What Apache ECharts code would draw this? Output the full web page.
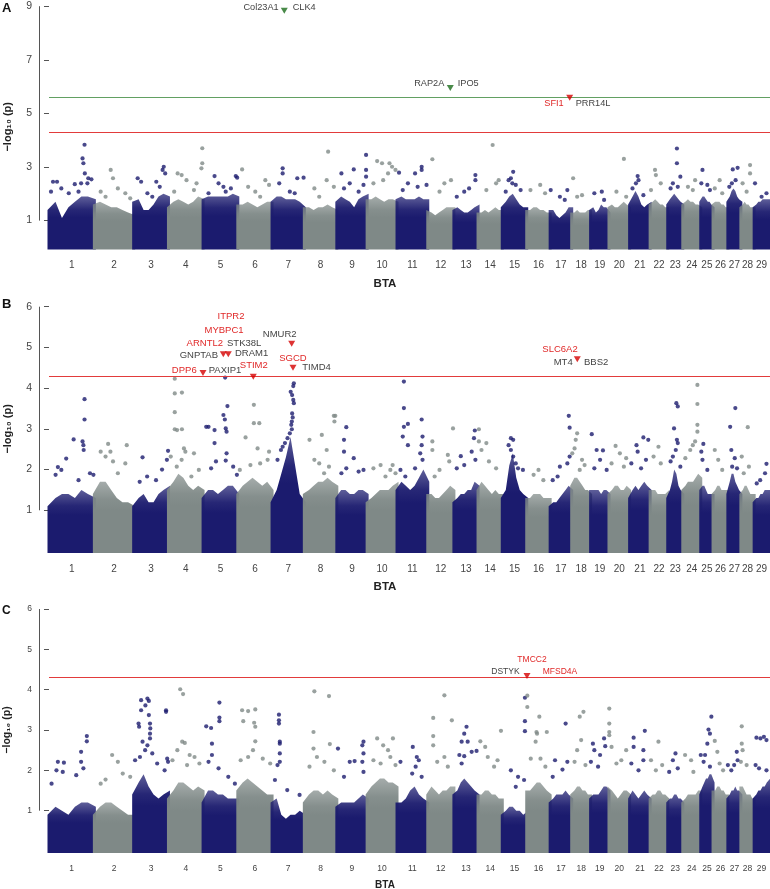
<!DOCTYPE html>
<html><head><meta charset="utf-8">
<script src="https://cdn.jsdelivr.net/npm/echarts@6/dist/echarts.min.js"></script>
<style>html,body{margin:0;padding:0;background:#fff}#c{width:770px;height:889px}</style>
</head><body><div id="c"></div>
<script>
// ---------------- DATA ----------------
const chromosomes = ['1','2','3','4','5','6','7','8','9','10','11','12','13','14','15','16','17','18','19','20','21','22','23','24','25','26','27','28','29'];
const chrLengthMb = [158.3,137.1,121.4,120.8,121.2,119.5,112.6,113.4,105.7,104.3,107.3,91.2,84.2,84.6,85.3,81.7,75.2,66.0,64.1,72.0,71.6,61.4,52.5,62.7,42.9,51.7,45.4,46.3,51.5];
const yTicksA = [1,3,5,7,9];
const yTicksBC = [1,2,3,4,5,6];
const thresholdRed = 4.3;
const thresholdGreenA = 5.61;

// dense band top profile per chromosome (8 samples evenly along each chromosome), -log10(p)
const bandA = [
[1.4,1.7,1.1,1.5,1.7,1.9,1.9,1.8],[1.6,1.7,1.6,1.5,1.5,1.4,1.3,1.2],[1.7,1.8,1.4,1.4,1.6,1.9,2.0,1.9],[1.5,1.7,1.8,1.7,1.6,1.7,1.9,1.8],
[1.8,1.9,1.9,1.9,1.9,1.9,2.0,1.9],[1.6,1.6,1.7,1.6,1.5,1.6,1.7,1.7],[1.7,1.9,1.9,1.8,1.8,1.8,1.7,1.5],[1.5,1.5,1.4,1.5,1.5,1.6,1.5,1.4],
[1.7,1.9,1.8,1.7,1.5,1.8,1.9,2.0],[1.8,1.8,1.9,1.8,1.7,1.8,1.8,1.7],[1.8,1.9,1.8,1.8,1.8,1.9,1.8,1.8],[1.4,1.3,1.2,1.3,1.4,1.5,1.5,1.5],
[1.4,1.5,1.4,1.3,1.3,1.4,1.5,1.6],[1.3,1.3,1.4,1.3,1.4,1.5,1.4,1.4],[1.5,1.7,1.9,2.0,1.8,1.6,1.5,1.5],[1.4,1.4,1.5,1.5,1.4,1.4,1.3,1.3],
[1.4,1.4,1.2,1.1,1.2,1.3,1.5,1.5],[1.3,1.3,1.4,1.3,1.3,1.3,1.4,1.4],[1.4,1.5,1.3,1.4,1.6,1.5,1.5,1.3],[1.5,1.6,1.5,1.5,1.6,1.7,1.6,1.5],
[1.6,1.9,2.1,1.9,1.6,1.5,1.6,1.7],[1.6,1.7,1.8,1.7,1.6,1.6,1.5,1.5],[1.6,1.8,1.9,2.0,1.9,1.8,1.7,1.6],[1.6,1.7,1.8,1.7,1.7,1.6,1.6,1.5],
[1.7,1.9,1.9,1.8,1.7,1.7,1.6,1.5],[1.6,1.7,1.7,1.7,1.6,1.6,1.5,1.5],[1.7,1.9,2.1,2.2,2.1,1.9,1.8,1.7],[1.5,1.6,1.7,1.6,1.6,1.5,1.5,1.5],
[1.5,1.6,1.7,1.7,1.8,1.8,1.8,1.8]];
const bandB = [
[1.1,1.3,1.4,1.4,1.3,1.5,1.4,1.3],[1.4,1.7,1.7,1.5,1.3,1.2,1.2,1.1],[1.1,1.3,1.4,1.2,1.2,1.4,1.5,1.6],[1.5,1.7,1.9,1.8,1.6,1.5,1.6,1.5],
[1.3,1.5,1.5,1.4,1.5,1.6,1.6,1.4],[1.4,1.6,1.7,1.8,1.7,1.6,1.7,1.5],[1.2,1.5,1.9,2.3,2.8,2.1,1.4,1.2],[1.4,1.5,1.6,1.7,1.7,1.8,1.7,1.6],
[1.3,1.5,1.5,1.4,1.4,1.5,1.5,1.4],[1.2,1.3,1.4,1.5,1.5,1.5,1.6,1.7],[1.5,1.7,1.6,1.5,1.6,1.8,2.0,1.7],[1.4,1.4,1.3,1.3,1.4,1.5,1.6,1.5],
[1.2,1.3,1.4,1.4,1.5,1.5,1.7,1.6],[1.5,1.7,1.6,1.5,1.4,1.5,1.4,1.4],[1.3,1.5,2.1,2.4,1.8,1.5,1.4,1.3],[1.3,1.3,1.4,1.4,1.4,1.3,1.3,1.3],
[1.1,1.2,1.2,1.3,1.4,1.5,1.6,1.5],[1.6,1.8,1.8,1.7,1.6,1.5,1.5,1.4],[1.5,1.5,1.5,1.5,1.4,1.5,1.5,1.4],[1.4,1.5,1.6,1.6,1.5,1.5,1.6,1.5],
[1.3,1.5,1.6,1.5,1.6,1.7,1.6,1.5],[1.5,1.5,1.5,1.4,1.4,1.4,1.4,1.5],[1.3,1.5,1.7,2.0,1.9,1.6,1.5,1.4],[1.5,1.6,1.7,1.7,1.7,1.8,1.9,1.8],
[1.5,1.6,1.6,1.5,1.4,1.4,1.4,1.4],[1.4,1.5,1.6,1.6,1.5,1.5,1.5,1.5],[1.4,1.7,1.9,1.9,1.7,1.6,1.5,1.4],[1.4,1.5,1.6,1.6,1.5,1.4,1.4,1.4],
[1.2,1.3,1.3,1.4,1.4,1.5,1.5,1.5]];
const bandC = [
[0.9,1.1,1.0,0.9,1.1,1.2,1.2,1.1],[0.9,1.1,1.2,1.2,1.1,1.0,0.9,0.9],[1.4,1.7,1.9,1.6,1.4,1.3,1.4,1.5],[1.3,1.5,1.7,1.7,1.6,1.5,1.6,1.5],
[1.2,1.5,1.5,1.4,1.4,1.3,1.3,1.3],[1.5,1.7,1.8,1.7,1.6,1.5,1.4,1.4],[1.2,1.3,0.9,0.8,0.9,0.9,1.0,0.9],[1.2,1.4,1.5,1.5,1.4,1.5,1.4,1.3],
[1.1,1.2,1.2,1.2,1.2,1.3,1.4,1.3],[1.4,1.6,1.7,1.8,1.8,1.7,1.7,1.6],[1.2,1.2,1.3,1.5,1.6,1.4,1.3,1.2],[1.4,1.6,1.5,1.4,1.5,1.5,1.6,1.6],
[1.4,1.5,1.7,1.8,1.7,1.6,1.5,1.4],[1.4,1.4,1.5,1.5,1.4,1.4,1.3,1.3],[0.9,1.0,1.1,1.1,1.0,1.0,0.9,1.0],[1.5,1.5,1.6,1.7,1.7,1.6,1.5,1.4],
[1.2,1.3,1.4,1.4,1.4,1.5,1.4,1.3],[1.4,1.5,1.6,1.6,1.5,1.5,1.4,1.4],[1.3,1.4,1.4,1.4,1.5,1.6,1.6,1.5],[1.6,1.5,1.4,1.3,1.4,1.5,1.5,1.4],
[1.3,1.5,1.4,1.3,1.4,1.5,1.4,1.3],[1.3,1.4,1.4,1.5,1.5,1.4,1.4,1.3],[1.2,1.3,1.3,1.4,1.4,1.3,1.3,1.2],[1.2,1.3,1.4,1.4,1.4,1.4,1.5,1.5],
[1.4,1.6,1.7,1.8,1.8,1.9,1.9,1.7],[1.5,1.5,1.6,1.6,1.5,1.5,1.4,1.4],[1.3,1.4,1.5,1.5,1.6,1.5,1.5,1.4],[1.6,1.6,1.5,1.4,1.4,1.4,1.3,1.3],
[1.3,1.4,1.5,1.5,1.6,1.6,1.7,1.8]];

// individual SNPs above the dense band: [chromosome, position (Mb), -log10(p)]
const pointsA = [
[1,14,2.45],[1,28,2.45],[1,7,2.08],[1,90,2.36],[1,112,2.39],[1,120,3.14],[1,117,3.32],[1,124,3.83],[1,125,2.76],[1,137,2.58],[1,148,2.54],[1,134,2.39],[1,103,2.08],[1,43,2.2],[1,69,2.02],
[2,57,2.89],[2,65,2.58],[2,22,2.08],[2,82,2.2],[2,39,1.89],[2,108,2.02],[2,125,1.83],
[3,14,2.58],[3,26,2.45],[3,105,3.01],[3,101,2.89],[3,110,2.76],[3,79,2.45],[3,91,2.26],[3,48,2.02],[3,65,1.89],
[4,32,2.76],[4,46,2.7],[4,63,2.51],[4,118,3.7],[4,118,3.14],[4,115,2.95],[4,98,2.39],[4,89,2.14],[4,20,2.08],
[5,40,2.66],[5,54,2.39],[5,71,2.26],[5,114,2.66],[5,119,2.6],[5,97,2.2],[5,19,2.02],[5,79,2.08],
[6,15,2.91],[6,36,2.26],[6,61,2.08],[6,96,2.51],[6,109,2.33],[6,78,1.89],
[7,37,2.95],[7,37,2.76],[7,25,2.39],[7,88,2.58],[7,110,2.6],[7,62,2.08],[7,79,2.02],
[8,83,3.57],[8,78,2.51],[8,35,2.2],[8,103,2.26],[8,52,1.89],
[9,16,2.76],[9,59,2.91],[9,102,3.45],[9,102,2.89],[9,102,2.64],[9,45,2.39],[9,25,2.2],[9,76,2.08],[9,93,2.33],
[10,35,3.22],[10,52,3.14],[10,78,3.14],[10,87,3.01],[10,99,2.89],[10,73,2.76],[10,22,2.39],[10,56,2.51],
[11,86,3.01],[11,86,2.89],[11,63,2.76],[11,7,2.79],[11,38,2.39],[11,72,2.26],[11,103,2.33],[11,20,2.14],
[12,16,3.29],[12,58,2.39],[12,81,2.51],[12,41,2.08],
[13,75,2.7],[13,75,2.51],[13,36,2.08],[13,10,1.89],[13,53,2.2],
[14,51,3.82],[14,63,2.39],[14,29,2.14],[14,72,2.51],
[15,38,2.82],[15,30,2.58],[15,22,2.51],[15,47,2.33],[15,12,2.08],[15,64,2.14],[15,35,2.39],
[16,47,2.33],[16,13,2.14],[16,64,2.02],
[17,2,2.14],[17,60,2.14],[17,34,1.89],[17,51,1.77],
[18,5,2.58],[18,36,1.95],[18,19,1.89],
[19,39,2.08],[19,13,2.02],[19,47,1.77],
[20,52,3.3],[20,26,2.08],[20,60,1.89],
[21,28,2.66],[21,31,2.51],[21,22,2.39],[21,10,2.2],[21,48,1.95],
[22,17,2.89],[22,20,2.7],[22,37,2.39],[22,3,2.14],
[23,32,3.69],[23,32,3.14],[23,44,2.64],[23,18,2.39],[23,10,2.2],[23,35,2.26],
[24,43,2.51],[24,18,2.26],[24,35,2.14],
[25,6,2.89],[25,2,2.39],[25,23,2.33],[25,32,2.14],
[26,23,2.51],[26,6,2.2],[26,32,2.02],
[27,17,2.91],[27,34,2.97],[27,14,2.39],[27,27,2.51],[27,5,2.26],
[28,32,3.07],[28,32,2.76],[28,6,2.39],[28,20,2.08],
[29,3,2.39],[29,43,2.02],[29,26,1.89]];
const pointsB = [
[1,124,3.73],[1,124,3.23],[1,86,2.74],[1,117,2.69],[1,120,2.6],[1,121,2.48],[1,60,2.27],[1,31,2.06],[1,23,1.87],[1,43,1.99],[1,143,1.91],[1,155,1.87],[1,103,1.74],
[2,48,2.63],[2,56,2.44],[2,22,2.44],[2,39,2.32],[2,65,2.2],[2,113,2.6],[2,108,2.15],[2,82,1.91],
[3,31,2.3],[3,120,2.46],[3,116,2.24],[3,99,2.0],[3,78,1.74],[3,47,1.83],[3,21,1.7],
[4,22,4.23],[4,22,3.87],[4,47,3.89],[4,22,3.41],[4,22,2.99],[4,47,2.99],[4,30,2.97],[4,54,2.52],[4,59,2.44],[4,46,2.24],[4,29,2.07],[4,89,2.4],[4,106,1.99],[4,80,1.83],[4,8,2.32],
[5,77,4.26],[5,85,3.56],[5,71,3.34],[5,76,3.23],[5,79,3.01],[5,82,2.93],[5,40,2.97],[5,19,3.05],[5,11,3.05],[5,40,2.65],[5,82,2.4],[5,79,2.22],[5,45,2.2],[5,28,2.03],[5,105,2.07],[5,118,1.87],
[6,56,3.59],[6,56,3.14],[6,75,3.14],[6,27,2.79],[6,69,2.52],[6,109,2.44],[6,104,2.24],[6,78,2.15],[6,44,2.11],[6,7,1.99],
[7,76,4.12],[7,74,4.05],[7,65,3.91],[7,70,3.83],[7,74,3.71],[7,76,3.63],[7,70,3.38],[7,72,3.28],[7,69,3.18],[7,67,3.1],[7,69,2.99],[7,62,2.89],[7,54,2.77],[7,45,2.65],[7,37,2.56],[7,31,2.48],[7,19,2.24],
[8,108,3.32],[8,103,3.32],[8,105,3.18],[8,61,2.85],[8,78,2.48],[8,18,2.73],[8,35,2.24],[8,86,2.07],[8,52,2.15],[8,69,1.91],
[9,33,3.04],[9,25,2.73],[9,25,2.44],[9,59,2.28],[9,33,2.03],[9,76,1.95],[9,93,1.99],[9,16,1.91],
[10,47,2.11],[10,89,2.11],[10,81,1.99],[10,22,2.03],[10,64,1.83],[10,99,1.91],
[11,24,4.16],[11,24,3.51],[11,24,3.05],[11,86,3.23],[11,89,2.81],[11,38,3.12],[11,38,2.6],[11,20,2.81],[11,86,2.6],[11,81,2.4],[11,89,2.24],[11,63,2.03],[11,12,1.99],[11,29,1.83],
[12,16,2.69],[12,16,2.48],[12,70,2.36],[12,75,2.2],[12,41,1.99],[12,24,1.83],[12,88,3.01],
[13,73,2.96],[13,70,2.77],[13,24,2.33],[13,36,2.11],[13,62,2.44],[13,75,2.24],[13,10,2.03],
[14,3,2.99],[14,3,2.69],[14,12,2.48],[14,38,2.2],[14,63,2.03],[14,29,2.65],
[15,30,2.77],[15,38,2.73],[15,22,2.6],[15,30,2.48],[15,38,2.32],[15,47,2.15],[15,55,2.03],[15,72,1.99],
[16,41,1.99],[16,24,1.87],[16,58,1.74],
[17,65,3.32],[17,68,3.03],[17,68,2.32],[17,60,2.15],[17,34,2.07],[17,26,1.83],[17,9,1.74],
[18,19,2.89],[18,14,2.73],[18,10,2.52],[18,2,2.4],[18,36,2.24],[18,45,2.11],[18,28,1.99],
[19,4,2.87],[19,21,2.48],[19,43,2.47],[19,33,2.24],[19,13,2.03],[19,56,1.99],
[20,23,2.58],[20,38,2.4],[20,9,2.15],[20,52,2.07],[20,60,2.28],
[21,48,2.79],[21,65,2.73],[21,24,2.6],[21,28,2.44],[21,6,2.15],[21,40,2.03],[21,57,2.24],
[22,29,2.56],[22,12,2.32],[22,37,2.15],
[23,30,3.63],[23,35,3.55],[23,22,3.01],[23,32,2.73],[23,35,2.65],[23,28,2.48],[23,18,2.32],[23,10,2.2],[23,44,2.07],
[24,51,4.08],[24,51,3.61],[24,51,3.1],[24,51,2.93],[24,43,2.69],[24,35,2.6],[24,26,2.48],[24,9,2.28],
[25,9,2.63],[25,2,2.44],[25,6,2.24],[25,23,1.99],
[26,6,2.48],[26,18,2.24],[26,32,1.99],
[27,26,3.51],[27,8,3.05],[27,12,2.48],[27,24,2.28],[27,15,2.07],[27,32,2.03],
[28,24,3.04],[28,3,2.32],[28,28,2.07],[28,10,1.91],
[29,43,2.14],[29,38,1.91],[29,21,1.74],[29,9,1.66]];
const pointsC = [
[1,132,2.85],[1,132,2.72],[1,112,2.46],[1,112,2.21],[1,31,2.21],[1,52,2.19],[1,26,2.0],[1,48,1.96],[1,95,1.88],[1,120,2.05],[1,9,1.67],
[2,62,2.38],[2,82,2.21],[2,39,1.77],[2,99,1.92],[2,22,1.67],[2,125,1.84],
[3,48,3.78],[3,53,3.72],[3,26,3.74],[3,26,3.49],[3,41,3.61],[3,53,3.37],[3,57,3.16],[3,58,3.04],[3,17,3.16],[3,19,3.08],[3,57,2.91],[3,57,2.79],[3,31,2.71],[3,48,2.62],[3,40,2.5],[3,22,2.33],[3,65,2.42],[3,113,3.49],[3,113,3.45],[3,117,2.29],[3,120,2.21],[3,108,2.0],[3,82,2.17],[3,5,2.25],
[4,41,4.01],[4,51,3.89],[4,48,2.71],[4,57,2.68],[4,31,2.5],[4,74,2.38],[4,91,2.33],[4,108,2.17],[4,14,2.25],[4,65,2.13],
[5,57,3.68],[5,57,3.31],[5,57,3.22],[5,11,3.09],[5,28,3.05],[5,31,2.66],[5,31,2.38],[5,54,2.05],[5,88,1.84],[5,111,1.67],[5,19,2.21],
[6,15,3.49],[6,36,3.47],[6,61,3.51],[6,19,3.22],[6,57,3.18],[6,61,3.08],[6,61,2.72],[6,53,2.5],[6,36,2.33],[6,10,2.25],[6,87,2.29],[6,113,2.17],
[7,24,3.38],[7,24,3.24],[7,24,3.16],[7,27,2.71],[7,27,2.66],[7,27,2.42],[7,27,2.21],[7,19,2.13],[7,10,1.76],[7,53,1.51],[7,96,1.39],
[8,35,3.96],[8,86,3.84],[8,32,2.95],[8,32,2.54],[8,89,2.65],[8,44,2.33],[8,70,2.21],[8,18,2.09],[8,103,2.0],
[9,4,2.54],[9,93,2.71],[9,89,2.62],[9,93,2.42],[9,62,2.23],[9,45,2.21],[9,89,2.21],[9,93,1.96],[9,25,1.84],
[10,35,2.79],[10,90,2.79],[10,56,2.62],[10,73,2.5],[10,81,2.33],[10,22,2.25],[10,47,2.17],[10,99,2.13],
[11,55,2.58],[11,69,2.33],[11,76,2.25],[11,65,2.09],[11,53,1.92],[11,12,2.21],[11,86,1.84],
[12,19,3.3],[12,19,2.85],[12,19,2.62],[12,84,3.24],[12,58,3.86],[12,58,2.33],[12,33,2.21],[12,70,2.09],
[13,44,3.08],[13,36,2.91],[13,27,2.71],[13,48,2.71],[13,36,2.35],[13,62,2.46],[13,79,2.48],[13,19,2.38],[13,27,2.17],
[14,8,2.72],[14,25,2.58],[14,34,2.33],[14,80,2.98],[14,56,2.09],[14,68,2.25],
[15,79,3.8],[15,79,3.22],[15,79,2.97],[15,30,2.0],[15,55,1.84],[15,76,1.76],[15,47,1.59],
[16,2,3.85],[16,2,3.57],[16,44,3.33],[16,34,2.95],[16,36,2.91],[16,70,2.95],[16,31,2.71],[16,14,2.29],[16,48,2.29],[16,65,2.09],
[17,54,3.16],[17,17,2.25],[17,60,2.21],[17,43,2.02],[17,9,1.84],
[18,41,3.45],[18,28,3.33],[18,33,2.75],[18,19,2.5],[18,10,2.21],[18,48,2.13],
[19,8,2.66],[19,13,2.5],[19,1,2.21],[19,47,2.79],[19,51,2.6],[19,33,2.38],[19,26,2.09],
[20,1,3.53],[20,1,3.16],[20,1,2.95],[20,1,2.87],[20,9,2.58],[20,43,2.25],[20,60,2.5],[20,26,2.17],
[21,53,2.98],[21,14,2.81],[21,14,2.58],[21,48,2.5],[21,48,2.25],[21,31,2.0],[21,6,2.17],
[22,29,2.71],[22,3,2.25],[22,42,2.13],[22,20,2.0],
[23,27,2.42],[23,18,2.25],[23,35,2.05],[23,5,1.96],
[24,8,2.38],[24,29,2.25],[24,37,1.96],
[25,37,3.33],[25,27,3.01],[25,32,2.91],[25,23,2.66],[25,15,2.38],[25,0,2.38],[25,10,2.21],[25,32,2.09],
[26,6,2.73],[26,15,2.46],[26,23,2.17],[26,35,2.0],
[27,31,2.46],[27,34,2.25],[27,22,2.13],[27,0,2.13],[27,12,2.0],
[28,3,3.09],[28,3,2.66],[28,6,2.5],[28,0,2.21],[28,20,2.13],
[29,8,2.81],[29,22,2.79],[29,43,2.75],[29,34,2.83],[29,17,2.05],[29,43,2.0],[29,5,2.13]];

// highlighted loci: [chromosome, position (Mb), -log10(p), kind]
const markersA = [[7,42.7,8.83,'green'],[12,78.6,5.95,'green'],[17,68.2,5.58,'red']];
const markersB = [[4,120.5,4.37,'red'],[5,70.6,4.83,'red'],[5,88.0,4.83,'red'],[6,54.0,4.28,'red'],[7,68.5,5.09,'red'],[7,73.1,4.50,'red'],[18,19.5,4.71,'red']];
const markersC = [[16,0.9,4.34,'red']];
// gene labels: [text, marker index, highlighted?]
const genesA = [['Col23A1',0,0],['CLK4',0,0],['RAP2A',1,0],['IPO5',1,0],['SFI1',2,1],['PRR14L',2,0]];
const genesB = [['DPP6',0,1],['PAXIP1',0,0],['GNPTAB',1,0],['DRAM1',2,0],['ARNTL2',1,1],['STK38L',1,0],['MYBPC1',1,1],['ITPR2',1,1],
  ['STIM2',3,1],['NMUR2',4,0],['SGCD',5,1],['TIMD4',5,0],['SLC6A2',6,1],['MT4',6,0],['BBS2',6,0]];
const genesC = [['TMCC2',0,1],['DSTYK',0,0],['MFSD4A',0,1]];

// ---------------- LAYOUT / STYLE ----------------
const labelPlaceA = [[-5.6,-3.7,'right'],[8.4,-3.7,'left'],[-6,-4.5,'right'],[7.4,-4.5,'left'],[-6,5.8,'right'],[6,5.8,'left']];
const labelPlaceB = [[-6.3,-2.3,'right'],[5.7,-2.3,'left'],[-5.3,1.4,'right'],[6.7,-1.3,'left'],[-0.3,-11,'right'],[3.7,-11,'left'],[0.7,-24.3,'center'],[7.7,-37.6,'center'],
  [0.5,-11.7,'center'],[-12,-9.4,'center'],[0,-9.4,'center'],[9.3,-0.7,'left'],[-17.3,-10,'center'],[-4.6,3.4,'right'],[6.7,3.4,'left']];
const labelPlaceC = [[5,-16,'center'],[-7.4,-4.4,'right'],[15.7,-4.4,'left']];

const FONT = '"Liberation Sans", Arial, Helvetica, sans-serif';
const NAVY = [27,27,110];
const GRAY = [127,137,135];
const rgba = (c,a)=>`rgba(${c[0]},${c[1]},${c[2]},${a})`;
const RED_LINE = '#e23b3b', RED_TXT = '#e02828', RED_MARK = '#d40000';
const GREEN_LINE = '#62a062', GREEN_MARK = '#1c6d1c';
const TXT = '#444';

const chrStart = []; { let acc = 0; for (const L of chrLengthMb) { chrStart.push(acc); acc += L; } }
const centers = chromosomes.map((c,i)=>chrStart[i] + chrLengthMb[i]/2);
const cum = (c,p)=>chrStart[c-1] + p;
const XMIN = -31.4, XMAX = 2515.7;

const grids = [
  {left:40, width:730, top:6.2, height:241.2, outerBoundsMode:'none', containLabel:false},
  {left:40, width:730, top:306.7, height:244.3, outerBoundsMode:'none', containLabel:false},
  {left:40, width:730, top:609, height:242, outerBoundsMode:'none', containLabel:false}
];
const panelFont = [10, 10, 8.5];
const geneFont = [9.2, 9.5, 8.5];
const btaGap = [30, 29.5, 29];

function xAxis(k){
  return {type:'value', gridIndex:k, min:XMIN, max:XMAX,
    axisLine:{show:false}, axisTick:{show:false}, splitLine:{show:false},
    axisLabel:{customValues:centers, formatter:(v)=>{const i=centers.findIndex(c=>Math.abs(c-v)<0.01); return i>=0?chromosomes[i]:'';},
      color:TXT, fontSize:panelFont[k], fontFamily:FONT, margin:13},
    name:'BTA', nameLocation:'middle', nameGap: btaGap[k],
    nameTextStyle:{fontWeight:'bold', fontSize:k===2?10:11.5, color:'#222', fontFamily:FONT, padding:[0,40,0,0]}};
}
function yAxis(k, max, ticks){
  return {type:'value', gridIndex:k, min:0, max:max,
    axisLine:{show:false}, splitLine:{show:false},
    axisTick:{show:true, customValues:ticks, length:5, lineStyle:{color:'#555', width:1}},
    axisLabel:{customValues:ticks, color:TXT, fontSize:panelFont[k]+(k===2?0:0.5), fontFamily:FONT, margin:8},
    name:'−log₁₀ (p)', nameLocation:'middle', nameGap:27, nameRotate:90,
    nameTextStyle:{fontWeight:'bold', fontSize:k===2?10.5:11, color:'#222', fontFamily:FONT}};
}
function bandSeries(k, band){
  return {type:'custom', xAxisIndex:k, yAxisIndex:k, clip:false, silent:true, z:1,
    data: chromosomes.map((c,i)=>[centers[i], 0]),
    renderItem(params, api){
      const i = params.dataIndex, prof = band[i], s = chrStart[i], L = chrLengthMb[i];
      const col = i%2===0 ? NAVY : GRAY;
      const b0 = api.coord([s,0]), b1 = api.coord([s+L,0]);
      const pts = [[b0[0]-1.5, b0[1]+2]];
      prof.forEach((v,j)=>{
        const p = api.coord([s + L*j/(prof.length-1), v]);
        if (j===0) p[0] -= 1.5;
        if (j===prof.length-1) p[0] += 1.5;
        pts.push(p);
      });
      pts.push([b1[0]+1.5, b1[1]+2]);
      return {type:'polygon', shape:{points:pts},
        style:{fill:new echarts.graphic.LinearGradient(0,0,0,1,[
          {offset:0, color:rgba(col,0.7)},{offset:0.25, color:rgba(col,0.95)},{offset:0.4, color:rgba(col,1)},{offset:1, color:rgba(col,1)}])}};
    }};
}
function pointSeries(k, pts, odd, lines){
  const s = {type:'scatter', xAxisIndex:k, yAxisIndex:k, symbol:'circle', symbolSize:4.2, z:3, silent:true,
    itemStyle:{color: odd ? rgba(NAVY,1) : rgba(GRAY,1)},
    data: pts.filter(p=>(p[0]%2===1)===odd).map(p=>[cum(p[0],p[1]), p[2]])};
  if (lines) s.markLine = {silent:true, symbol:['none','none'], label:{show:false}, animation:false,
    data: lines.map(l=>[{coord:[0,l[0]], lineStyle:{color:l[1], width:1.1, type:'solid'}},{coord:[XMAX,l[0]]}])};
  return s;
}
function axisLineSeries(k, top){
  return {type:'custom', xAxisIndex:k, yAxisIndex:k, clip:false, silent:true, z:4, data:[[0,0]],
    renderItem(params, api){
      const a = api.coord([XMIN,1]), b = api.coord([XMIN,top]);
      const x = Math.round(a[0]) - 0.5;
      return {type:'line', shape:{x1:x, y1:a[1], x2:x, y2:b[1]}, style:{stroke:'#555', lineWidth:1}};
    }};
}
function markerSeries(k, markers){
  return {type:'scatter', xAxisIndex:k, yAxisIndex:k, symbol:'triangle', symbolRotate:180, symbolSize:[7,6], z:6, silent:true,
    data: markers.map(m=>({value:[cum(m[0],m[1]), m[2]], itemStyle:{color: m[3]==='green'?GREEN_MARK:RED_MARK}}))};
}
function labelSeries(k, markers, genes, place){
  return {type:'custom', xAxisIndex:k, yAxisIndex:k, clip:false, silent:true, z:7,
    data: genes.map(g=>{const m = markers[g[1]]; return [cum(m[0],m[1]), m[2]];}),
    renderItem(params, api){
      const i = params.dataIndex, g = genes[i], pl = place[i];
      const p = api.coord([api.value(0), api.value(1)]);
      return {type:'text', x:p[0]+pl[0], y:p[1]+pl[1],
        style:{text:g[0], fill: g[2] ? RED_TXT : TXT, font: geneFont[k]+'px '+FONT, align:pl[2], verticalAlign:'middle'}};
    }};
}

const series = [];
const bands = [bandA, bandB, bandC], pts = [pointsA, pointsB, pointsC];
const marks = [markersA, markersB, markersC], genes = [genesA, genesB, genesC], places = [labelPlaceA, labelPlaceB, labelPlaceC];
const tops = [9, 6, 6];
const lineSets = [[[thresholdGreenA, GREEN_LINE],[thresholdRed, RED_LINE]], [[thresholdRed, RED_LINE]], [[thresholdRed, RED_LINE]]];
for (let k=0;k<3;k++){
  series.push(bandSeries(k, bands[k]));
  series.push(pointSeries(k, pts[k], true, lineSets[k]));
  series.push(pointSeries(k, pts[k], false, null));
  series.push(axisLineSeries(k, tops[k]));
  series.push(markerSeries(k, marks[k]));
  series.push(labelSeries(k, marks[k], genes[k], places[k]));
}

const chart = echarts.init(document.getElementById('c'), null, {renderer:'canvas'});
chart.setOption({
  animation:false,
  backgroundColor:'#fff',
  grid: grids,
  xAxis: [xAxis(0), xAxis(1), xAxis(2)],
  yAxis: [yAxis(0, 9, yTicksA), yAxis(1, 6, yTicksBC), yAxis(2, 6, yTicksBC)],
  graphic: [
    {type:'text', left:2, top:2, style:{text:'A', font:'bold 13px '+FONT, fill:'#111'}},
    {type:'text', left:2, top:298, style:{text:'B', font:'bold 13px '+FONT, fill:'#111'}},
    {type:'text', left:2, top:605, style:{text:'C', font:'bold 12px '+FONT, fill:'#111'}}
  ],
  series: series
});
</script></body></html>
